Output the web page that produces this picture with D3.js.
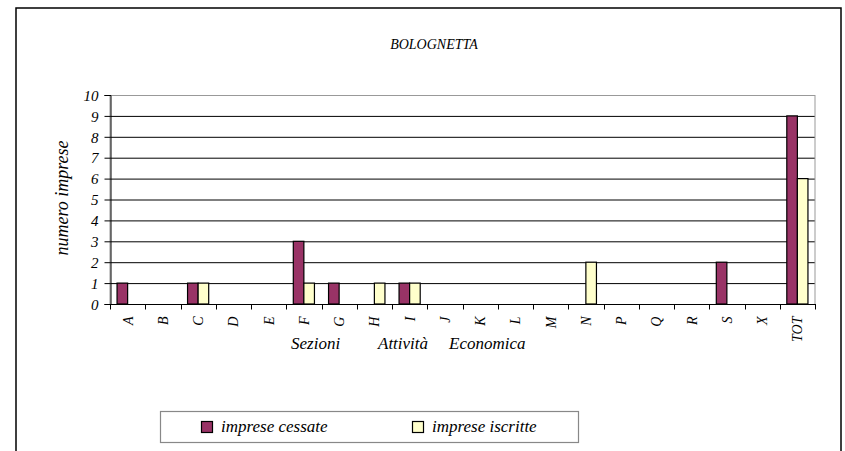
<!DOCTYPE html>
<html>
<head>
<meta charset="utf-8">
<script src="https://cdn.jsdelivr.net/npm/d3@7"></script>
<style>
  body { margin: 0; background: #fff; font-family: 'Liberation Serif', serif; }
</style>
</head>
<body>
<svg id="chart" width="845" height="451" font-family="Liberation Serif" font-style="italic"></svg>
<script>
const categories = ["A","B","C","D","E","F","G","H","I","J","K","L","M","N","P","Q","R","S","X","TOT"];
const cessate  = [1,0,1,0,0,3,1,0,1,0,0,0,0,0,0,0,0,2,0,9];
const iscritte = [0,0,1,0,0,1,0,1,1,0,0,0,0,2,0,0,0,0,0,6];
const seriesNames = ["imprese cessate", "imprese iscritte"];
const seriesColors = ["#993366", "#FFFFCC"];
const yTicks = [0,1,2,3,4,5,6,7,8,9,10];

const FONT = "Liberation Serif";
const svg = d3.select("#chart");

// outer frame
svg.append("rect")
    .attr("x", 16).attr("y", 8)
    .attr("width", 825).attr("height", 460)
    .attr("fill", "none").attr("stroke", "#000").attr("stroke-width", 1.5);

svg.append("text")
    .attr("x", 434).attr("y", 49)
    .attr("text-anchor", "middle")
    .attr("font-size", 14)
    .text("BOLOGNETTA");

const plot = { left: 110, right: 815, top: 95, bottom: 304 };

let x = d3.scaleBand()
    .domain(categories)
    .range([plot.left, plot.right]);

let xs = d3.scaleBand()
    .domain(seriesNames)
    .range([x.bandwidth() * 0.2, x.bandwidth() * 0.8]);

let y = d3.scaleLinear()
    .domain([0, 10])
    .range([plot.bottom, plot.top]);

// gridlines
svg.append("g")
  .selectAll("line")
  .data(yTicks.filter(d => d > 0 && d < 10))
  .enter()
  .append("line")
    .attr("x1", plot.left).attr("x2", plot.right)
    .attr("y1", d => y(d) + 0.5).attr("y2", d => y(d) + 0.5)
    .attr("stroke", "#000");

// plot border
svg.append("rect")
    .attr("x", plot.left).attr("y", y(10) + 0.5)
    .attr("width", plot.right - plot.left).attr("height", y(0) - y(10))
    .attr("fill", "none").attr("stroke", "#999");

// bars
let table = categories.map((c, i) => ({ cat: c, values: [cessate[i], iscritte[i]] }));

svg.append("g")
  .selectAll("g")
  .data(table)
  .enter()
  .append("g")
    .attr("transform", d => "translate(" + x(d.cat) + ",0)")
  .selectAll("rect")
  .data(d => d.values.map((v, k) => ({ name: seriesNames[k], v: v, k: k })).filter(e => e.v > 0))
  .enter()
  .append("rect")
    .attr("x", d => xs(d.name))
    .attr("y", d => y(d.v))
    .attr("width", xs.bandwidth())
    .attr("height", d => y(0) - y(d.v))
    .attr("fill", d => seriesColors[d.k])
    .attr("stroke", "#000")
    .attr("stroke-width", 1.2);

// y axis
let yAxis = svg.append("g")
    .attr("transform", "translate(" + (plot.left + 0.5) + ",0)")
    .call(d3.axisLeft(y).tickValues(yTicks).tickSize(6).tickPadding(6));
yAxis.attr("font-family", FONT).attr("font-size", 15);
yAxis.select(".domain").attr("stroke", "#000");
yAxis.selectAll(".tick line").attr("stroke", "#000");
yAxis.selectAll("text")
    .attr("fill", "#000")
    .attr("dy", "0.35em");

// x axis
let xAxis = svg.append("g")
    .attr("transform", "translate(0," + (plot.bottom + 0.5) + ")");
xAxis.append("line")
    .attr("x1", plot.left).attr("x2", plot.right + 1)
    .attr("stroke", "#000");
xAxis.selectAll(".tk")
  .data(categories.concat([null]))
  .enter()
  .append("line")
    .attr("x1", (d, i) => Math.round(plot.left + i * x.step()) + 0.5)
    .attr("x2", (d, i) => Math.round(plot.left + i * x.step()) + 0.5)
    .attr("y1", 0).attr("y2", 5)
    .attr("stroke", "#000");
xAxis.selectAll(".lbl")
  .data(categories)
  .enter()
  .append("text")
    .attr("transform", d => "translate(" + (x(d) + x.bandwidth() / 2 + 5) + ",12) rotate(-90)")
    .attr("text-anchor", "end")
    .attr("font-size", 14)
    .text(d => d);

// axis titles
svg.append("text")
    .attr("transform", "translate(68,198) rotate(-90)")
    .attr("text-anchor", "middle")
    .attr("font-size", 18)
    .text("numero imprese");

let xt = svg.append("text")
    .attr("y", 349)
    .attr("font-size", 17);
xt.append("tspan").attr("x", 291).text("Sezioni");
xt.append("tspan").attr("x", 378).text("Attività");
xt.append("tspan").attr("x", 449).text("Economica");

// legend
let legend = svg.append("g");
legend.append("rect")
    .attr("x", 160.5).attr("y", 411.5)
    .attr("width", 418).attr("height", 31)
    .attr("fill", "#fff").attr("stroke", "#888").attr("stroke-width", 1.2);

let legendX = [201, 412];
seriesNames.forEach((name, k) => {
  legend.append("rect")
      .attr("x", legendX[k] + 0.5).attr("y", 421.5)
      .attr("width", 11).attr("height", 11)
      .attr("fill", seriesColors[k]).attr("stroke", "#000").attr("stroke-width", 1.2);
  legend.append("text")
      .attr("x", legendX[k] + 20).attr("y", 432)
      .attr("font-size", 17)
      .text(name);
});
</script>
</body>
</html>
